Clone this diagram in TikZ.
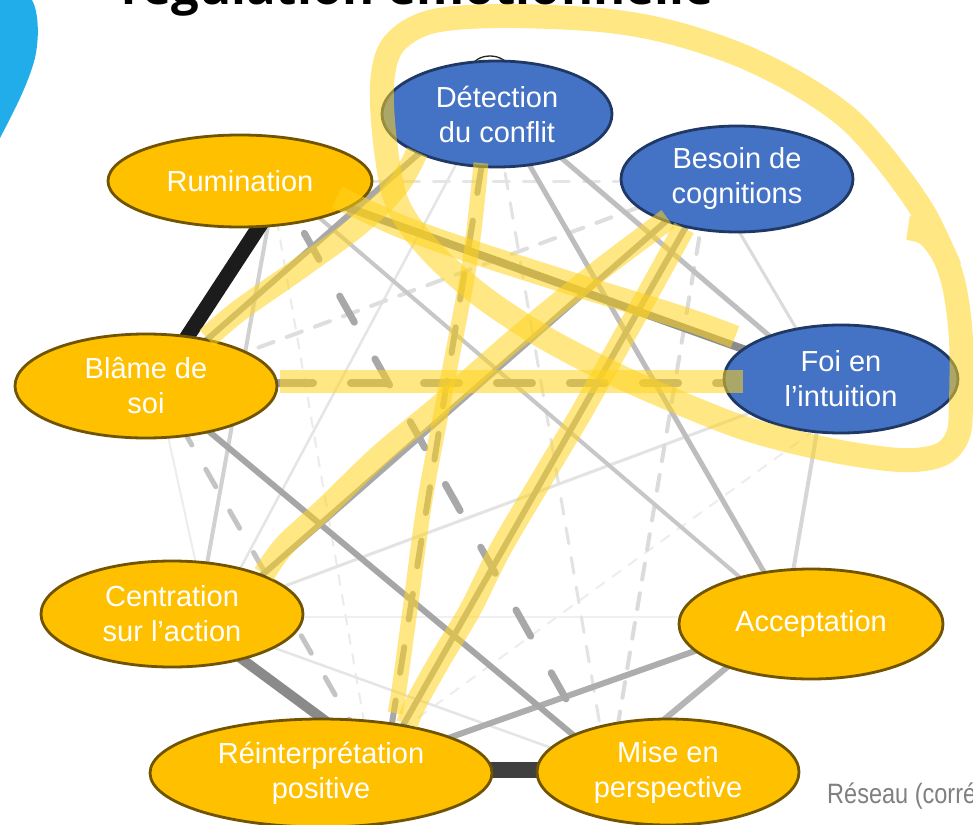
\documentclass[tikz,border=0pt]{standalone}
\usepackage{fontspec}
\setmainfont{Liberation Sans}
\newfontfamily\titlefont{Open Sans}
\usetikzlibrary{shapes.geometric,calc}

\pgfdeclarelayer{links}
\pgfdeclarelayer{marks}
\pgfsetlayers{links,main,marks}

\definecolor{nodeblue}{RGB}{68,114,196}
\definecolor{blueedge}{RGB}{31,56,100}
\definecolor{nodegold}{RGB}{255,192,0}
\definecolor{goldedge}{RGB}{112,84,0}
\definecolor{hiyellow}{RGB}{255,212,30}
\definecolor{cornerblue}{RGB}{33,173,233}
\definecolor{captiongray}{RGB}{128,128,128}

\begin{document}
\begin{tikzpicture}[x=1pt,y=-1pt,
  netnode/.style={ellipse, inner sep=0pt, line width=2.8pt, text=white,
    align=center, font=\fontsize{29}{35}\selectfont},
  bluenode/.style={netnode, fill=nodeblue, draw=blueedge},
  goldnode/.style={netnode, fill=nodegold, draw=goldedge},
  link/.style 2 args={draw=black!#1, line width=#2pt, line cap=round},
  dlink/.style n args={4}{draw=black!#1, line width=#2pt, line cap=round,
    dash pattern=on #3pt off #4pt},
  hilite/.style={draw=hiyellow, draw opacity=0.55, line width=#1pt,
    line join=round}]

\useasboundingbox (0,0) rectangle (973,824);
\begin{pgfonlayer}{links}
  \fill[white] (0,0) rectangle (973,824);
\end{pgfonlayer}

% corner decoration and heading
\fill[cornerblue] (0,0) -- (32,0) .. controls (38,10) and (40,35) .. (35,58)
  .. controls (28,85) and (12,115) .. (0,138) -- cycle;
\node[anchor=base west, inner sep=0pt,
  font=\titlefont\bfseries\fontsize{49}{49}\selectfont] (title) at (121,5)
  {régulation émotionnelle};

% network nodes
\node[bluenode, minimum width=230pt, minimum height=106pt] (D) at (497,114) {Détection\\du conflit};
\node[bluenode, minimum width=232pt, minimum height=106pt] (B) at (737,179) {Besoin de\\cognitions};
\node[goldnode, minimum width=264pt, minimum height=92pt] (R) at (240,181) {Rumination};
\node[goldnode, minimum width=262pt, minimum height=104pt] (Bl) at (146,386) {Blâme de\\soi};
\node[bluenode, minimum width=234pt, minimum height=108pt] (F) at (841,379) {Foi en\\l’intuition};
\node[goldnode, minimum width=262pt, minimum height=106pt] (C) at (172,614) {Centration\\sur l’action};
\node[goldnode, minimum width=264pt, minimum height=110pt] (A) at (811,624) {\raisebox{-5pt}{Acceptation}};
\node[goldnode, minimum width=342pt, minimum height=108pt] (P) at (321,773) {Réinterprétation\\positive};
\node[goldnode, minimum width=262pt, minimum height=106pt] (M) at (668,772) {Mise en\\perspective};

\node[anchor=base west, inner sep=0pt, text=captiongray] (caption) at (827,803)
  {\scalebox{0.84}[1]{\fontsize{28}{28}\selectfont Réseau (corré}};

% edges of the network, under the nodes
\begin{pgfonlayer}{links}
  \draw[link={6}{2}] ($(C)+(0,3)$) -- ($(A)+(0,-7)$);
  \draw[link={7}{2}] ($(Bl)+(11,0)$) -- ($(C)+(35,0)$);
  \draw[dlink={7}{2}{10}{10}] ($(P)+(0,15)$) -- ($(F)+(0,32)$);
  \draw[dlink={8}{2}{10}{10}] ($(R)+(30,0)$) -- ($(P)+(52,0)$);
  \draw[link={10}{2.5}] ($(D)+(-14,0)$) -- ($(C)+(44,0)$);
  \draw[link={10}{2.5}] ($(C)+(0,-3)$) -- ($(M)+(0,18)$);
  \draw[link={11}{3}] ($(C)+(0,14)$) -- (F);
  \draw[dlink={10}{3}{16}{14}] (R) -- ($(B)+(0,2)$);
  \draw[dlink={11}{3}{16}{14}] ($(D)+(-2,0)$) -- ($(M)+(-60,0)$);
  \draw[dlink={13}{4}{16}{14}] ($(Bl)+(0,3)$) -- ($(B)+(0,-8)$);
  \draw[dlink={14}{4}{16}{14}] ($(B)+(-28,0)$) -- ($(M)+(-58,0)$);
  \draw[link={14}{3}] ($(B)+(-29,0)$) -- ($(F)+(-15,0)$);
  \draw[link={16}{4}] ($(F)+(-15,0)$) -- ($(A)+(-27,0)$);
  \draw[link={18}{4}] ($(R)+(36,0)$) -- ($(C)+(26,0)$);
  \draw[link={22}{4}] ($(R)+(0,-31)$) -- ($(A)+(0,14)$);
  \draw[dlink={23}{5}{20}{28}] ($(Bl)+(12,0)$) -- ($(P)+(59,0)$);
  \draw[link={25}{5}] ($(D)+(0,-11)$) -- ($(F)+(0,18)$);
  \draw[link={26}{5}] ($(D)+(3,0)$) -- ($(A)+(-17,0)$);
  \draw[link={29}{6}] ($(M)+(-67,0)$) -- ($(A)+(-32,0)$);
  \draw[link={32}{6}] ($(P)+(0,10)$) -- ($(A)+(0,-14)$);
  \draw[link={35}{6}] ($(Bl)+(0,-7)$) -- ($(M)+(0,42)$);
  \draw[dlink={34}{7}{30}{42}, dash phase=12pt] ($(R)+(35,0)$) -- ($(M)+(-61,0)$);
  \draw[dlink={34}{6}{26}{28}] ($(D)+(-7,0)$) -- ($(P)+(63,0)$);
  \draw[link={34}{6}] ($(B)+(0,-20)$) -- ($(C)+(0,40)$);
  \draw[link={34}{6}] ($(B)+(-24,0)$) -- ($(P)+(55,0)$);
  \draw[link={34}{6}] ($(Bl)+(0,7)$) -- ($(D)+(0,-29)$);
  \draw[dlink={37}{8}{35}{38}, dash phase=14pt] ($(Bl)+(0,-3)$) -- ($(F)+(0,4)$);
  \draw[link={45}{8}] ($(R)+(0,-12)$) -- ($(F)+(0,5)$);
  \draw[link={46}{10}] ($(C)+(9,0)$) -- ($(P)+(75,0)$);
  \draw[link={75}{16}, line cap=butt] ($(P)+(0,-3)$) -- ($(M)+(0,-2)$);
  \draw[link={89}{15}, line cap=butt] ($(R)+(49,0)$) -- ($(Bl)+(9,0)$);
  % outline peeking above the top node
  \draw[line width=1.3pt, draw=black!85, fill=white] (490,68) ellipse [x radius=18, y radius=12];
\end{pgfonlayer}

% highlighter strokes
\begin{pgfonlayer}{marks}
  \draw[hilite=23] (280,381.5) -- (743,381.5);
  \draw[hilite=23] plot[smooth, tension=0.55] coordinates
    {(337,197) (400,226) (467,250) (573,284) (683,318) (735,337)};
  \draw[hilite=22] plot[smooth, tension=0.55] coordinates
    {(207,338) (240,310) (300,268) (360,224) (398,186) (417,152)};
  \draw[hilite=15] plot[smooth, tension=0.55] coordinates
    {(481,163) (470,260) (447,383) (425,500) (410,610) (399,690) (395,713)};
  \draw[hilite=22] plot[smooth, tension=0.55] coordinates
    {(668,219) (600,270) (520,335) (440,405) (380,455) (325,508) (285,545) (264,574)};
  \draw[hilite=22] plot[smooth, tension=0.55] coordinates
    {(684,228) (650,290) (622,340) (580,415) (540,482) (500,550) (470,610) (440,660) (415,705) (407,724)};
  \draw[hilite=24] plot[smooth, tension=0.55] coordinates
    {(908,228) (927,234) (944,256) (955,290) (961,340) (961,400) (958,435) (940,455) (900,460)
     (830,450) (750,430) (680,403) (610,372) (540,335) (480,295) (430,250) (398,205)
     (386,150) (382,85) (393,45) (430,22) (500,16) (600,20) (670,32) (740,55)
     (800,85) (850,120) (890,165) (925,215) (950,268)};
\end{pgfonlayer}
\end{tikzpicture}
\end{document}
